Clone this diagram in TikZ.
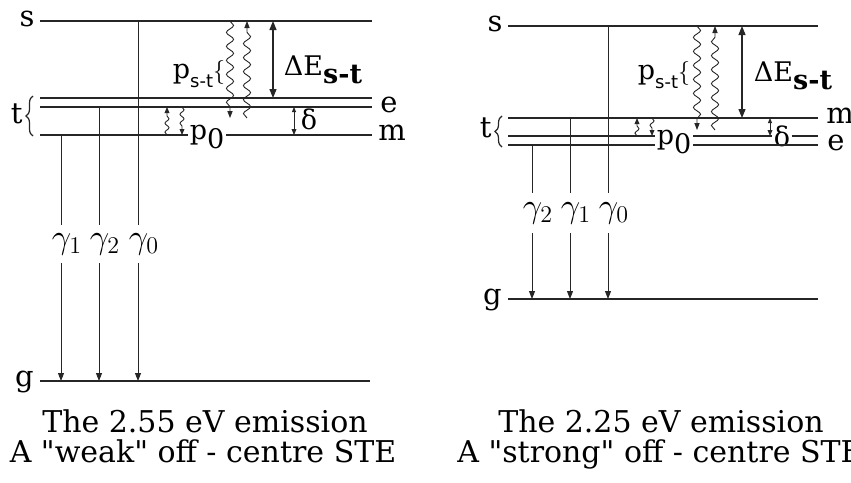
\documentclass[tikz,border=0pt]{standalone}
\usepackage{fontspec}
\setmainfont{DejaVu Serif}[Ligatures=TeXOff]
\setsansfont{DejaVu Sans}
\usetikzlibrary{arrows.meta, decorations.pathmorphing, decorations.pathreplacing, positioning}
\newcommand{\lowsub}[1]{\raisebox{-0.6ex}{#1}}

\begin{document}
\begin{tikzpicture}[x=0.5pt, y=-0.5pt,
    level/.style={draw=black!85, line width=0.8pt},
    thinline/.style={draw=black!85, line width=0.45pt},
    photon/.style={thinline, -{Triangle[length=4pt, width=3pt]}},
    wavy/.style={thinline, -{Triangle[length=3.5pt, width=2.6pt]}, decorate,
        decoration={snake, amplitude=1.8pt, segment length=7pt, post length=3pt}},
    smallwavy/.style={thinline, -{Triangle[length=3pt, width=2.4pt]}, decorate,
        decoration={snake, amplitude=1pt, segment length=4.5pt, post length=3pt}},
    gap/.style={draw=black!85, line width=0.6pt, {Triangle[length=4.5pt, width=3.5pt]}-{Triangle[length=4.5pt, width=3.5pt]}},
    split/.style={thinline, {Triangle[length=2.5pt, width=2pt]}-{Triangle[length=3pt, width=2.4pt]}},
    lvllabel/.style={font=\fontsize{14.5}{16}\selectfont, inner sep=0pt},
    symb/.style={font=\fontsize{13.5}{15}\selectfont, inner sep=1pt},
    gam/.style={font=\fontsize{17}{19}\selectfont, minimum height=19pt, inner sep=0pt},
    caption/.style={font=\fontsize{15}{17}\selectfont, inner sep=0pt, anchor=base}
]
    \useasboundingbox (0,0) rectangle (851,482);

    % --- Left diagram: levels s, e (double), m, g ---
    \foreach \n/\y in {s/21, e/98, f/107, m/135} {
        \coordinate (L\n-a) at (40,\y);
        \coordinate (L\n-b) at (372,\y);
        \draw[level] (L\n-a) -- (L\n-b);
    }
    \coordinate (Lg-a) at (40,381);
    \coordinate (Lg-b) at (370,381);
    \draw[level] (Lg-a) -- (Lg-b);

    \node[lvllabel, anchor=mid east] (Lslab) at ([xshift=-2.5pt]Ls-a) {s};
    \node[lvllabel, anchor=mid west] (Lelab) at ([xshift=4pt]Lf-b) {e};
    \node[lvllabel, anchor=mid west] (Lmlab) at ([xshift=3pt]Lm-b) {m};
    \node[lvllabel, anchor=mid east] (Lglab) at ([xshift=-3pt]Lg-a) {g};
    \coordinate (Lbr-bot) at (33,136);
    \coordinate (Lbr-top) at (33,96);
    \draw[thinline, line width=0.6pt, decorate, decoration={brace, amplitude=3.5pt}] (Lbr-bot) -- (Lbr-top);
    \node[lvllabel, anchor=mid east] (Ltlab) at (23,118) {t};

    % --- Left diagram: radiative transitions ---
    \foreach \i/\x/\from in {1/61/m, 2/99/f, 0/138/s} {
        \coordinate (Lp\i) at (\x,0);
        \node[gam] (Lgam\i) at ([xshift=3pt]\x,244) {$\gamma_\i$};
        \draw[thinline] (Lp\i |- L\from-a) -- (Lp\i |- Lgam\i.north);
        \draw[photon] (Lp\i |- Lgam\i.south) -- (Lp\i |- Lg-a);
    }

    % --- Left diagram: s-t coupling ---
    \coordinate (Lwd-top) at (230,21);
    \coordinate (Lwd-bot) at (230,118);
    \coordinate (Lwu-bot) at (247,118);
    \coordinate (Lwu-top) at (247,21);
    \draw[wavy] (Lwd-top) -- (Lwd-bot);
    \draw[wavy] (Lwu-bot) -- (Lwu-top);
    \coordinate (LdE-top) at (273,21);
    \coordinate (LdE-bot) at (273,98);
    \draw[gap] (LdE-top) -- (LdE-bot);
    \node[symb] (LdElab) at (323,70) {ΔE\lowsub{\bfseries s-t}};
    \node[symb] (Lpstlab) at (199,74) {p\lowsub{\sffamily\small s-t}{\large$\{$}};

    % --- Left diagram: e-m splitting ---
    \coordinate (Ld-top) at (294,107);
    \coordinate (Ld-bot) at (294,135);
    \draw[split] (Ld-top) -- (Ld-bot);
    \node[symb] (Ldlab) at (309,119) {δ};
    \coordinate (Lpu-bot) at (167,135);
    \coordinate (Lpu-top) at (167,107);
    \coordinate (Lpd-top) at (182,107);
    \coordinate (Lpd-bot) at (182,135);
    \draw[smallwavy] (Lpu-bot) -- (Lpu-top);
    \draw[smallwavy] (Lpd-top) -- (Lpd-bot);
    \node[symb, fill=white] (Lp0lab) at (207,137) {p\lowsub{0}};

    % --- Right diagram: levels s, m, e (double), g ---
    \foreach \n/\y in {s/26, m/118, e/136, f/145, g/299} {
        \coordinate (R\n-a) at (508,\y);
        \coordinate (R\n-b) at (818,\y);
    }
    \node[symb, inner sep=0.5pt] (Rdlab) at (782,136) {δ};
    \foreach \n in {s, m, f, g}
        \draw[level] (R\n-a) -- (R\n-b);
    \draw[level] (Re-a) -- (Rdlab.west |- Re-a);
    \draw[level] (Rdlab.east |- Re-a) -- (Re-b);

    \node[lvllabel, anchor=mid east] (Rslab) at ([xshift=-2.5pt]Rs-a) {s};
    \node[lvllabel, anchor=mid west] (Rmlab) at ([xshift=4pt]Rm-b) {m};
    \node[lvllabel, anchor=mid west] (Relab) at ([xshift=4.5pt]Rf-b) {e};
    \node[lvllabel, anchor=mid east] (Rglab) at ([xshift=-3pt]Rg-a) {g};
    \coordinate (Rbr-bot) at (502,147);
    \coordinate (Rbr-top) at (502,116);
    \draw[thinline, line width=0.6pt, decorate, decoration={brace, amplitude=3.5pt}] (Rbr-bot) -- (Rbr-top);
    \node[lvllabel, anchor=mid east] (Rtlab) at (492,132) {t};

    % --- Right diagram: radiative transitions ---
    \foreach \i/\x/\from in {2/532/f, 1/570/m, 0/608/s} {
        \coordinate (Rp\i) at (\x,0);
        \node[gam, minimum height=20pt] (Rgam\i) at ([xshift=3pt]\x,213) {$\gamma_\i$};
        \draw[thinline] (Rp\i |- R\from-a) -- (Rp\i |- Rgam\i.north);
        \draw[photon] (Rp\i |- Rgam\i.south) -- (Rp\i |- Rg-a);
    }

    % --- Right diagram: s-t coupling ---
    \coordinate (Rwd-top) at (697,26);
    \coordinate (Rwd-bot) at (697,130);
    \coordinate (Rwu-bot) at (715,130);
    \coordinate (Rwu-top) at (715,26);
    \draw[wavy] (Rwd-top) -- (Rwd-bot);
    \draw[wavy] (Rwu-bot) -- (Rwu-top);
    \coordinate (RdE-top) at (742,26);
    \coordinate (RdE-bot) at (742,118);
    \draw[gap] (RdE-top) -- (RdE-bot);
    \node[symb] (RdElab) at (793,76) {ΔE\lowsub{\bfseries s-t}};
    \node[symb] (Rpstlab) at (664,75) {p\lowsub{\sffamily\small s-t}{\large$\{$}};

    % --- Right diagram: m-e splitting ---
    \coordinate (Rd-top) at (770,118);
    \coordinate (Rd-bot) at (770,136);
    \draw[split] (Rd-top) -- (Rd-bot);
    \coordinate (Rpu-bot) at (637,136);
    \coordinate (Rpu-top) at (637,118);
    \coordinate (Rpd-top) at (652,118);
    \coordinate (Rpd-bot) at (652,136);
    \draw[smallwavy] (Rpu-bot) -- (Rpu-top);
    \draw[smallwavy] (Rpd-top) -- (Rpd-bot);
    \node[symb, fill=white] (Rp0lab) at (674,142) {p\lowsub{0}};

    % --- Captions ---
    \node[caption] (Lcap1) at (205,432) {The 2.55 eV emission};
    \node[caption] (Lcap2) at (203,462) {A "weak" off - centre STE};
    \node[caption] (Rcap1) at (661,432) {The 2.25 eV emission};
    \node[caption] (Rcap2) at (660,462) {A "strong" off - centre STE};
\end{tikzpicture}
\end{document}
